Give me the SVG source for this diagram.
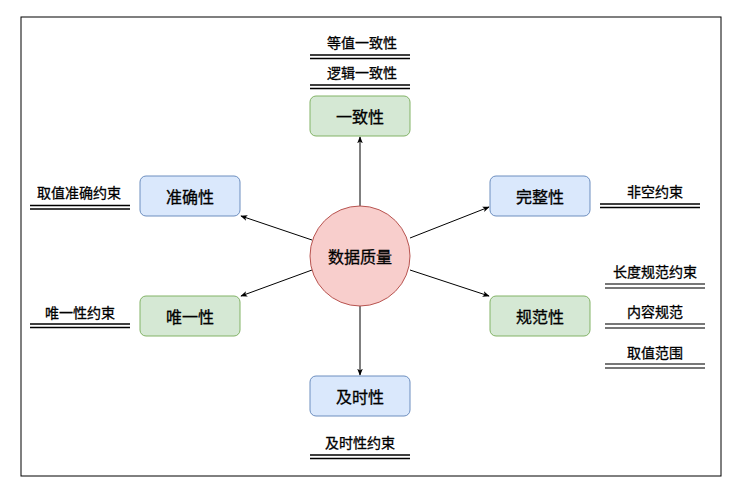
<svg xmlns="http://www.w3.org/2000/svg" width="742" height="490" viewBox="0 0 742 490">
<defs>
<style>
.g{fill:#d5e8d4;stroke:#82b366;stroke-width:1}
.b{fill:#dae8fc;stroke:#6c8ebf;stroke-width:1}
.c{fill:#f8cecc;stroke:#b85450;stroke-width:1}
.t{font-family:"Noto Sans CJK SC","Noto Sans",sans-serif;font-size:16px;fill:#000;stroke:#000;stroke-width:0.3;text-anchor:middle;dominant-baseline:central}
.s{font-family:"Noto Sans CJK SC","Noto Sans",sans-serif;font-size:14px;fill:#000;stroke:#000;stroke-width:0.3;text-anchor:middle;dominant-baseline:central}
.u{stroke:#000;stroke-width:1.3;fill:none}
.ug{stroke:#777;stroke-width:2;fill:none}
.e{stroke:#000;stroke-width:1;fill:none;marker-end:url(#a)}
</style>
<marker id="a" viewBox="0 0 10 10" refX="9" refY="5" markerWidth="7" markerHeight="7" orient="auto" markerUnits="userSpaceOnUse">
<path d="M0,1 L10,5 L0,9 L2.5,5 Z" fill="#000"/>
</marker>
</defs>
<rect x="0" y="0" width="742" height="490" fill="#fff"/>
<rect x="21" y="17" width="700" height="459" fill="none" stroke="#000" stroke-width="1"/>
<g id="connectors">
<path class="e" d="M360,206 L360,137"/>
<path class="e" d="M360,306 L360,375"/>
<path class="e" d="M312,240 L241,216"/>
<path class="e" d="M410,238 L489,207"/>
<path class="e" d="M312,270 L241,296"/>
<path class="e" d="M410,270 L489,296"/>
</g>
<g id="center"><circle class="c" cx="360" cy="256" r="50"/><text class="t" x="360" y="256">数据质量</text></g>
<g id="consistency"><rect class="g" x="310" y="96" width="100" height="40" rx="6"/><text class="t" x="360" y="116">一致性</text></g>
<g id="accuracy"><rect class="b" x="140" y="176" width="100" height="40" rx="6"/><text class="t" x="190" y="196">准确性</text></g>
<g id="completeness"><rect class="b" x="490" y="176" width="100" height="40" rx="6"/><text class="t" x="540" y="196">完整性</text></g>
<g id="uniqueness"><rect class="g" x="140" y="296" width="100" height="40" rx="6"/><text class="t" x="190" y="316">唯一性</text></g>
<g id="standard"><rect class="g" x="490" y="296" width="100" height="40" rx="6"/><text class="t" x="540" y="316">规范性</text></g>
<g id="timeliness"><rect class="b" x="310" y="376" width="100" height="40" rx="6"/><text class="t" x="360" y="396">及时性</text></g>
<g id="label-equal"><text class="s" x="362" y="42">等值一致性</text><path class="u" d="M310,55 H410 M310,58.5 H410"/></g>
<g id="label-logic"><text class="s" x="362" y="72">逻辑一致性</text><path class="u" d="M310,85 H410 M310,88.5 H410"/></g>
<g id="label-accuracy"><text class="s" x="79" y="192">取值准确约束</text><path class="u" d="M30,205.5 H130 M30,209 H130"/></g>
<g id="label-notnull"><text class="s" x="655" y="191">非空约束</text><path class="u" d="M600,204 H700 M600,207.5 H700"/></g>
<g id="label-length"><text class="s" x="655" y="271">长度规范约束</text><path class="ug" d="M605,284 H705 M605,288 H705"/></g>
<g id="label-content"><text class="s" x="655" y="311">内容规范</text><path class="ug" d="M605,324 H705 M605,328 H705"/></g>
<g id="label-range"><text class="s" x="655" y="352">取值范围</text><path class="ug" d="M605,364 H705 M605,368 H705"/></g>
<g id="label-unique"><text class="s" x="80" y="312">唯一性约束</text><path class="u" d="M30,324 H130 M30,327.5 H130"/></g>
<g id="label-timely"><text class="s" x="360" y="442">及时性约束</text><path class="u" d="M310,455 H410 M310,458.5 H410"/></g>
</svg>
